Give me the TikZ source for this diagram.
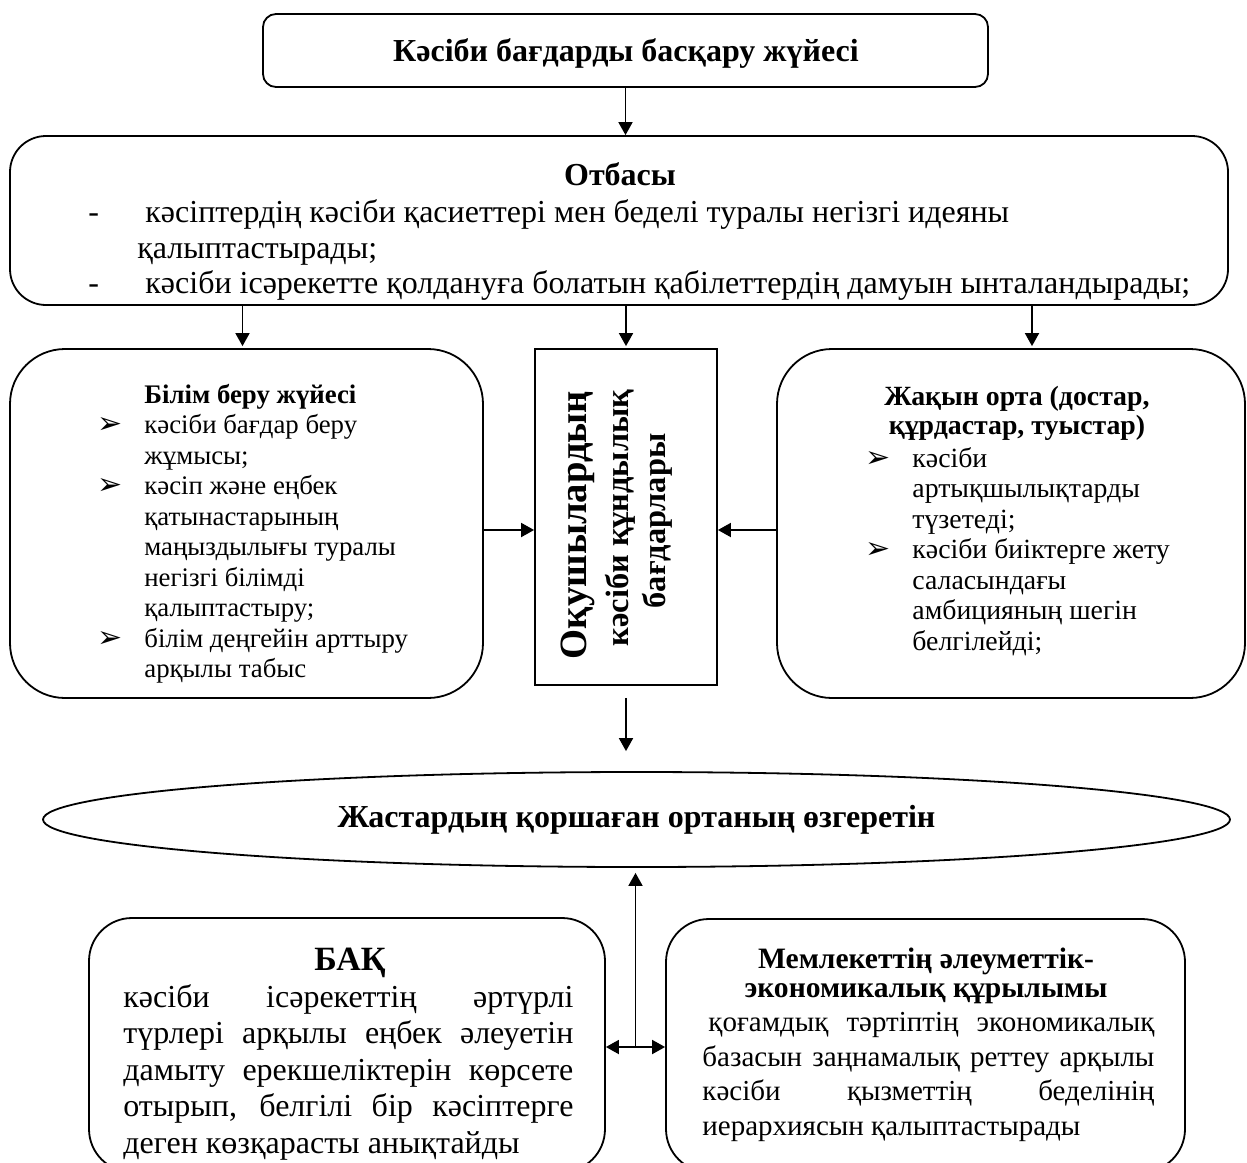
\documentclass[tikz,border=0pt]{standalone}
\usepackage{fontspec}
\setmainfont{Liberation Serif}
\newfontfamily\dvfont{DejaVu Sans}
\usetikzlibrary{shapes.geometric,arrows.meta,calc}
\newcommand{\fs}[2]{\fontsize{#1}{#2}\selectfont}
\newcommand{\bul}{\makebox[23.5pt][l]{\dvfont\fontsize{15}{15}\selectfont ➢}}
\begin{document}
\begin{tikzpicture}[x=0.5pt,y=-0.5pt,
  frame/.style={draw, line width=0.9pt, inner sep=0pt, rounded corners=#1},
  sharpbox/.style={draw, line width=0.9pt, inner sep=0pt},
  txt/.style={inner sep=0pt, anchor=base west},
  ctxt/.style={inner sep=0pt, anchor=base, align=center},
  arr/.style={line width=0.9pt, -{Triangle[length=6.5pt,width=7pt]}},
  darr/.style={line width=0.9pt, {Triangle[length=6.5pt,width=7pt]}-{Triangle[length=6.5pt,width=7pt]}}]
\useasboundingbox (0,0) rectangle (1247,1162);
\fill[white] (0,0) rectangle (1247,1162);
\clip (0,0) rectangle (1247,1162);

% boxes
\node[frame=6.5pt, minimum width=362.5pt, minimum height=36.5pt] (top) at (625.5,50.5) {};
\node[ctxt, font=\fs{16}{18}\bfseries] (topt) at (626,61) {Кәсіби бағдарды басқару жүйесі};
\node[frame=18pt, minimum width=609pt, minimum height=84.5pt] (otb) at (619,220.5) {};
\node[frame=27.5pt, minimum width=236.5pt, minimum height=174.5pt] (bilim) at (246.5,523.5) {};
\node[sharpbox, minimum width=91pt, minimum height=168pt] (okush) at (626,517) {};
\node[frame=27.5pt, minimum width=234pt, minimum height=174.5pt] (jaqyn) at (1011,523.5) {};
\node[ellipse, draw, line width=0.9pt, inner sep=0pt, minimum width=593.5pt, minimum height=47.5pt] (ell) at (636.5,819.5) {};
\node[ctxt, font=\fs{16}{18}\bfseries] (ellt) at (636.5,827) {Жастардың қоршаған ортаның өзгеретін};
\node[frame=21.5pt, minimum width=258pt, minimum height=127pt] (bak) at (347,1045) {};
\node[frame=21.5pt, minimum width=259.5pt, minimum height=126.5pt] (mem) at (925.5,1045.5) {};

% Отбасы text
\node[ctxt, font=\fs{16}{18}\bfseries] (otbt) at (620,185) {Отбасы};
\node[txt, font=\fs{16}{18}] (od1) at (88,222) {-};
\node[txt, font=\fs{16}{18}] (o1) at (145,222) {кәсіптердің кәсіби қасиеттері мен беделі туралы негізгі идеяны};
\node[txt, font=\fs{16}{18}] (o2) at (137,258) {қалыптастырады;};
\node[txt, font=\fs{16}{18}] (od2) at (88,293) {-};
\node[txt, font=\fs{16}{18}] (o3) at (145,293) {кәсіби ісәрекетте қолдануға болатын қабілеттердің дамуын ынталандырады;};

% Білім беру жүйесі (anchor = baseline of last line)
\node[txt, align=left, font=\fs{13.4}{15.25}] (bt) at (144,677.5) {\textbf{Білім беру жүйесі}\\
\llap{\bul}кәсіби бағдар беру\\
жұмысы;\\
\llap{\bul}кәсіп және еңбек\\
қатынастарының\\
маңыздылығы туралы\\
негізгі білімді\\
қалыптастыру;\\
\llap{\bul}білім деңгейін арттыру\\
арқылы табыс};

% Center
\node[ctxt, rotate=90, font=\fs{19.3}{22}\bfseries] (c1) at (586,525) {Оқушылардың};
\node[ctxt, rotate=90, font=\fs{16.2}{18}\bfseries] (c2) at (628,518) {кәсіби құндылық};
\node[ctxt, rotate=90, font=\fs{16.2}{18}\bfseries] (c3) at (665,521) {бағдарлары};

% Жақын орта
\node[ctxt, font=\fs{13.9}{14.5}\bfseries] (jt) at (1017,434) {Жақын орта (достар,\\құрдастар, туыстар)};
\node[txt, align=left, font=\fs{13.9}{15.25}] (jb) at (912,650) {\llap{\bul}кәсіби\\
артықшылықтарды\\
түзетеді;\\
\llap{\bul}кәсіби биіктерге жету\\
саласындағы\\
амбицияның шегін\\
белгілейді;};

% БАҚ
\node[ctxt, font=\fs{17}{18}\bfseries] (bakt) at (350,970) {БАҚ};
\node[txt, align=left, font=\fs{16}{18.25}] (bakb) at (123,1153) {\makebox[225pt][s]{кәсіби ісәрекеттің әртүрлі}\\
\makebox[225pt][s]{түрлері арқылы еңбек әлеуетін}\\
\makebox[225pt][s]{дамыту ерекшеліктерін көрсете}\\
\makebox[225pt][s]{отырып, белгілі бір кәсіптерге}\\
деген көзқарасты анықтайды};

% Мемлекет
\node[ctxt, font=\fs{14.8}{14.5}\bfseries] (memt) at (926,997) {Мемлекеттің әлеуметтік-\\экономикалық құрылымы};
\node[txt, align=left, font=\fs{14.5}{17.17}] (memb) at (702,1135) {\makebox[226pt][s]{\hspace*{3pt}қоғамдық тәртіптің экономикалық}\\
\makebox[226pt][s]{базасын заңнамалық реттеу арқылы}\\
\makebox[226pt][s]{кәсіби қызметтің беделінің}\\
иерархиясын қалыптастырады};

% connectors
\draw[arr] (top) -- (top.south |- otb.north);
\path ([xshift=-2pt]bilim.north) coordinate (bn) ([xshift=10.5pt]jaqyn.north) coordinate (jn);
\draw[arr, shorten >=1pt] (otb.south -| bn) -- (bn);
\draw[arr, shorten >=1pt] (otb.south -| okush.north) -- (okush.north);
\draw[arr, shorten >=1pt] (otb.south -| jn) -- (jn);
\coordinate (hy) at (0,530);
\draw[arr] (bilim.east |- hy) -- (okush.west |- hy);
\draw[arr] (jaqyn.west |- hy) -- (okush.east |- hy);
\draw[arr, shorten <=6pt, shorten >=10pt] (okush.south) -- (okush.south |- ell.north);
\coordinate (hy2) at (0,1047);
\draw[darr] (bak.east |- hy2) -- (mem.west |- hy2);
\coordinate (mid) at ($(bak.east |- hy2)!0.5!(mem.west |- hy2)$);
\draw[arr, shorten >=2.5pt] (mid) -- (mid |- ell.south);
\end{tikzpicture}
\end{document}
